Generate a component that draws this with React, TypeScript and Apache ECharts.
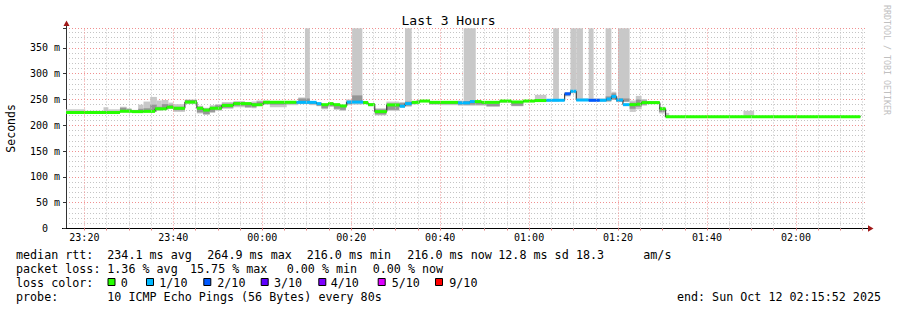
import React, { useEffect, useRef } from 'react';
import * as echarts from 'echarts';

// ---------- data ----------
const TITLE = 'Last 3 Hours';
const Y_NAME = 'Seconds';
const WATERMARK = 'RRDTOOL / TOBI OETIKER';
// x values are minutes since 23:00 (23:15:52 .. 02:15:52)
const X_START = 15.867;
const X_END = 195.867;
const Y_MAX = 388; // ms
const X_TICK_VALUES = [20, 40, 60, 80, 100, 120, 140, 160, 180];
const X_TICK_LABELS = ['23:20', '23:40', '00:00', '00:20', '00:40', '01:00', '01:20', '01:40', '02:00'];
const X_MINOR_STEP = 5;

// median rtt (ms), stepped: value holds from medT[i] until medT[i+1]
const medT = [15.9, 28.0, 30.7, 33.3, 35.9, 38.5, 40.0, 42.6, 45.3, 46.7, 48.2, 50.9, 53.5, 57.6, 60.2, 67.7, 72.2, 73.3, 74.8, 76.0, 77.5, 79.0, 82.7, 83.8, 85.3, 88.0, 90.9, 92.1, 93.6, 95.4, 97.7, 104.0, 106.7, 107.8, 109.3, 113.4, 116.0, 118.7, 121.3, 123.9, 128.0, 129.3, 130.6, 133.4, 135.9, 137.4, 138.5, 139.6, 141.1, 142.6, 144.1, 145.3, 146.7, 149.4, 150.7];
const medV = [225, 227, 226.5, 227, 232, 235, 233, 245, 233, 229.5, 233, 238.5, 242, 240, 244.5, 244.5, 242, 240, 242, 240, 237.5, 245, 244, 240, 226.5, 239.5, 237, 242, 244.5, 247, 244.5, 243.5, 246, 246, 244.5, 247, 245, 247, 248, 248.5, 261, 266, 249, 248.5, 248.5, 251, 256, 249, 240, 240, 241, 244, 244, 232, 216.8];
// loss level index into LOSS_LEVELS
const medLoss = [0, 0, 0, 0, 0, 0, 0, 0, 0, 0, 0, 0, 0, 0, 0, 1, 1, 0, 0, 0, 0, 1, 0, 0, 0, 0, 1, 1, 0, 0, 0, 1, 1, 0, 0, 0, 0, 0, 0, 1, 2, 1, 1, 2, 1, 1, 1, 1, 1, 0, 0, 0, 0, 0, 0];
const MED_END = 194.5;

// smoke (ping distribution), stepped
const smokeT = [15.9, 20.2, 24.3, 25.4, 28.0, 29.5, 30.6, 32.1, 33.3, 34.8, 36.3, 37.4, 38.9, 40.0, 42.6, 45.3, 46.7, 48.2, 49.4, 50.9, 53.5, 56.1, 57.6, 58.7, 61.7, 65.5, 68.1, 69.6, 70.7, 72.2, 73.3, 74.8, 76.1, 77.5, 78.8, 80.2, 82.5, 83.8, 85.3, 87.9, 90.8, 92.1, 93.6, 94.7, 97.5, 99.9, 104.0, 105.3, 108.0, 110.4, 113.4, 116.0, 118.7, 121.3, 123.9, 125.4, 126.7, 128.0, 129.3, 130.6, 132.1, 133.4, 134.5, 135.9, 137.2, 138.5, 139.6, 140.0, 142.6, 144.0, 145.3, 146.5, 149.2, 150.5, 151.5, 168.2, 170.6];
const smokeLo = [222, 223, 223, 223, 225, 225, 224, 226, 226, 226, 228, 230, 232, 226, 241, 223, 220, 224, 228, 232, 235, 234, 233, 240, 235, 239, 241, 241, 239, 237, 231, 236, 230, 228, 239, 240, 241, 237, 219, 228, 234, 236, 240, 245, 240, 239, 238, 238, 238, 236, 244, 237, 245, 245, 246, 246, 247, 256, 262, 247, 247, 246, 246, 246, 245, 249, 245, 245, 226, 231, 238, 241, 223, 215, 215.5, 215.5, 215.5];
const smokeHi = [231, 228, 235, 231, 236, 233, 230, 240, 246, 255, 248, 249, 244, 241, 250, 238, 234, 239, 241, 245, 247, 245, 246, 248, 246, 247, 254, 400, 246, 244, 239, 244, 242, 240, 250, 400, 247, 243, 233, 246, 245, 400, 247, 249, 246, 246, 248, 400, 246, 243, 249, 245, 249, 259, 251, 400, 251, 264, 400, 400, 252, 400, 252, 252, 400, 265, 256, 400, 248, 257, 251, 247, 236, 224, 218, 228, 218];
const coreLo = [223.5, 223.5, 224, 224, 227, 226, 225, 227, 227, 227, 230, 231, 234, 229, 243, 225, 222, 226, 231, 234, 238, 235, 235, 241, 240, 242, 243, 243, 241, 238, 233, 237, 232, 230, 241, 244, 242, 238, 221, 230, 236, 238, 242, 246, 241, 241, 240, 240, 240, 237, 245, 238, 246, 246, 247, 247, 248, 258, 264, 248, 248, 247, 247, 247, 247, 250, 246, 246, 232, 236, 240, 242, 226, 216, 216, 216, 216];
const coreHi = [227, 226.5, 228, 227, 234, 231, 229, 232, 233, 240, 236, 241, 240, 236, 249, 236, 232, 236, 239, 242, 245, 243, 243, 246, 245, 246, 252, 252, 245, 243, 238, 243, 240, 238, 246, 258, 246, 242, 231, 242, 243, 246, 246, 248, 245, 245, 246, 247, 245, 242, 248, 243, 248, 250, 250, 250, 250, 263, 268, 251, 250, 251, 250, 250, 256, 262, 252, 252, 244, 250, 248, 246, 234, 219, 217.5, 218, 217.5];
const SMOKE_END = 194.5;

// legend texts
const RTT_HEAD = 'median rtt:';
const RTT_STATS = ['234.1 ms avg', '264.9 ms max', '216.0 ms min', '216.0 ms now', '12.8 ms sd', '18.3', 'am/s'];
const LOSS_HEAD = 'packet loss:';
const LOSS_STATS = ['1.36 % avg', '15.75 % max', '0.00 % min', '0.00 % now'];
const COLOR_HEAD = 'loss color:';
const LOSS_LEVELS = ['0', '1/10', '2/10', '3/10', '4/10', '5/10', '9/10'];
const PROBE_HEAD = 'probe:';
const PROBE_TEXT = '10 ICMP Echo Pings (56 Bytes) every 80s';
const END_TEXT = 'end: Sun Oct 12 02:15:52 2025';

// ---------- styles / layout ----------
const LOSS_COLORS = ['#26ff00', '#00b8ff', '#0059ff', '#5e00ff', '#7e00ff', '#dd00ff', '#ff0000'];
const MONO = '"DejaVu Sans Mono", monospace';
const RTT_X = [107.3, 207.3, 306.7, 407.3, 498.3, 576, 643.3];
const LOSS_X = [107.3, 190, 286.7, 372.7];
const BOX_X = [107.5, 146, 203.3, 260.7, 318.3, 377.7, 435];
const BOX_LABEL_X = [120.7, 159.3, 217.3, 274, 330.7, 391.7, 449.3];
const ROW_Y = [254.5, 268.5, 282.5, 296.5];
const LEGEND_FONT = 11.7;

function buildOption() {
  const smokeRows = smokeT.map((t, i) => [t, i + 1 < smokeT.length ? smokeT[i + 1] : SMOKE_END, smokeLo[i], smokeHi[i], coreLo[i], coreHi[i]]);
  const medRows = medT.map((t, i) => [t, i + 1 < medT.length ? medT[i + 1] : MED_END, medV[i], medLoss[i]]);
  const medLine: number[][] = medT.map((t, i) => [t, medV[i]]);
  medLine.push([MED_END, medV[medV.length - 1]]);

  const minorX: number[] = [];
  const majorX: number[] = [];
  for (let v = 20; v <= X_END; v += X_MINOR_STEP) {
    if (X_TICK_VALUES.includes(v)) majorX.push(v); else minorX.push(v);
  }
  const allTicks = [...minorX, ...majorX].sort((a, b) => a - b);

  const minorStyle = { color: '#c4c4c4', type: [1, 2] as any, width: 1 };
  const majorStyle = { color: '#f09090', type: [1, 2] as any, width: 1 };

  const text = (t: string, x: number, y: number, extra: any = {}) => ({
    type: 'text', x, y, silent: true,
    style: { text: t, fontFamily: MONO, fontSize: LEGEND_FONT, fill: '#000', verticalAlign: 'middle', align: 'left', ...extra },
  });

  const graphics: any[] = [];
  graphics.push(text(RTT_HEAD, 16, ROW_Y[0]));
  RTT_STATS.forEach((s, i) => graphics.push(text(s, RTT_X[i], ROW_Y[0])));
  graphics.push(text(LOSS_HEAD, 16, ROW_Y[1]));
  LOSS_STATS.forEach((s, i) => graphics.push(text(s, LOSS_X[i], ROW_Y[1])));
  graphics.push(text(COLOR_HEAD, 16, ROW_Y[2]));
  LOSS_LEVELS.forEach((s, i) => {
    graphics.push({ type: 'rect', silent: true, shape: { x: BOX_X[i] + 0.5, y: ROW_Y[2] - 4, width: 7, height: 7 }, style: { fill: LOSS_COLORS[i], stroke: '#000', lineWidth: 1 } });
    graphics.push(text(s, BOX_LABEL_X[i], ROW_Y[2]));
  });
  graphics.push(text(PROBE_HEAD, 16, ROW_Y[3]));
  graphics.push(text(PROBE_TEXT, 107.3, ROW_Y[3]));
  graphics.push(text(END_TEXT, 881, ROW_Y[3], { align: 'right' }));
  // watermark
  graphics.push({ type: 'text', x: 887, y: 60, rotation: -Math.PI / 2, silent: true, style: { text: WATERMARK, fontFamily: MONO, fontSize: 8.3, fill: '#c0c0c0', align: 'center', verticalAlign: 'middle' } });
  // axis arrows
  graphics.push({ type: 'line', silent: true, shape: { x1: 66.5, y1: 25, x2: 66.5, y2: 29 }, style: { stroke: '#333', lineWidth: 1 } });
  graphics.push({ type: 'polygon', silent: true, shape: { points: [[63.5, 26], [69.5, 26], [66.5, 20.5]] }, style: { fill: '#a01818' } });
  graphics.push({ type: 'line', silent: true, shape: { x1: 866, y1: 228.5, x2: 869, y2: 228.5 }, style: { stroke: '#000', lineWidth: 1 } });
  graphics.push({ type: 'polygon', silent: true, shape: { points: [[868, 225.3], [868, 231.7], [873.5, 228.5]] }, style: { fill: '#a01818' } });
  graphics.push({ type: 'line', silent: true, shape: { x1: 62, y1: 228.5, x2: 66, y2: 228.5 }, style: { stroke: '#000', lineWidth: 1 } });

  return {
    animation: false,
    backgroundColor: '#ffffff',
    title: {
      text: TITLE, left: 'center', top: 9,
      textStyle: { fontFamily: MONO, fontSize: 13, fontWeight: 'normal', color: '#000' },
    },
    grid: { left: 66, right: 30.5, top: 28.3, bottom: 81.5, containLabel: false, outerBoundsMode: 'none' },
    xAxis: {
      type: 'value', min: X_START, max: X_END,
      axisLine: { show: true, lineStyle: { color: '#000', width: 1 } },
      axisTick: { show: true, customValues: allTicks, length: 2, lineStyle: { color: '#e08080' } },
      axisLabel: {
        customValues: X_TICK_VALUES,
        formatter: (v: number) => {
          const i = X_TICK_VALUES.findIndex((x) => Math.abs(x - v) < 1e-6);
          return i >= 0 ? X_TICK_LABELS[i] : '';
        },
        fontFamily: MONO, fontSize: 10, color: '#000', margin: 4,
      },
      splitLine: { show: false },
    },
    yAxis: {
      type: 'value', min: 0, max: Y_MAX, interval: 50,
      name: Y_NAME, nameLocation: 'middle', nameGap: 49, nameRotate: 90,
      nameTextStyle: { fontFamily: MONO, fontSize: 11.5, color: '#000' },
      axisLine: { show: true, lineStyle: { color: '#333', width: 1 } },
      axisTick: { show: true, length: 3, lineStyle: { color: '#333' } },
      minorTick: { show: false, splitNumber: 5 },
      axisLabel: {
        fontFamily: MONO, fontSize: 10, color: '#000', margin: 6,
        formatter: (v: number) => (v === 0 ? '{z|0}' : v % 50 === 0 ? `${v} m` : ''),
        rich: { z: { fontFamily: MONO, fontSize: 10, color: '#000', padding: [0, 12, 0, 0] } },
      },
      splitLine: { show: true, lineStyle: majorStyle },
      minorSplitLine: { show: true, lineStyle: minorStyle },
    },
    graphic: graphics,
    series: [
      {
        name: 'grid', type: 'line', data: [], silent: true, z: 1,
        markLine: {
          silent: true, symbol: 'none', animation: false, label: { show: false },
          data: [
            ...minorX.map((v) => ({ xAxis: v, lineStyle: minorStyle })),
            ...majorX.map((v) => ({ xAxis: v, lineStyle: majorStyle })),
          ],
        },
      },
      {
        name: 'smoke', type: 'custom', silent: true, z: 2, data: smokeRows,
        encode: { x: [0, 1], y: [2, 3] },
        renderItem: (params: any, api: any) => {
          const t0 = api.value(0), t1 = api.value(1);
          const cs = params.coordSys;
          const clip = { x: cs.x, y: cs.y, width: cs.width, height: cs.height };
          const mk = (lo: number, hi: number, fill: string) => {
            const a = api.coord([t0, hi]);
            const b = api.coord([t1, lo]);
            const r = echarts.graphic.clipRectByRect({ x: a[0], y: a[1], width: b[0] - a[0], height: b[1] - a[1] }, clip);
            return r ? { type: 'rect', shape: r, style: { fill } } : null;
          };
          const children = [mk(api.value(2), api.value(3), '#c8c8c8'), mk(api.value(4), api.value(5), '#959595')].filter(Boolean);
          return { type: 'group', children };
        },
      },
      {
        name: 'median', type: 'line', data: medLine, step: 'end', symbol: 'none', silent: true, z: 3,
        lineStyle: { color: '#202020', width: 1 },
      },
      {
        name: 'loss', type: 'custom', silent: true, z: 4, data: medRows,
        encode: { x: [0, 1], y: 2 },
        renderItem: (params: any, api: any) => {
          const a = api.coord([api.value(0), api.value(2)]);
          const b = api.coord([api.value(1), api.value(2)]);
          return { type: 'rect', shape: { x: a[0], y: a[1] - 1.5, width: b[0] - a[0], height: 3 }, style: { fill: LOSS_COLORS[api.value(3)] } };
        },
      },
    ],
  };
}

export default function App() {
  const ref = useRef<HTMLDivElement>(null);
  useEffect(() => {
    const chart = echarts.init(ref.current!, null, { renderer: 'svg' });
    chart.setOption(buildOption() as any);
    return () => chart.dispose();
  }, []);
  return <div ref={ref} style={{ position: 'fixed', left: 0, top: 0, width: 897, height: 310, background: '#fff' }} />;
}
